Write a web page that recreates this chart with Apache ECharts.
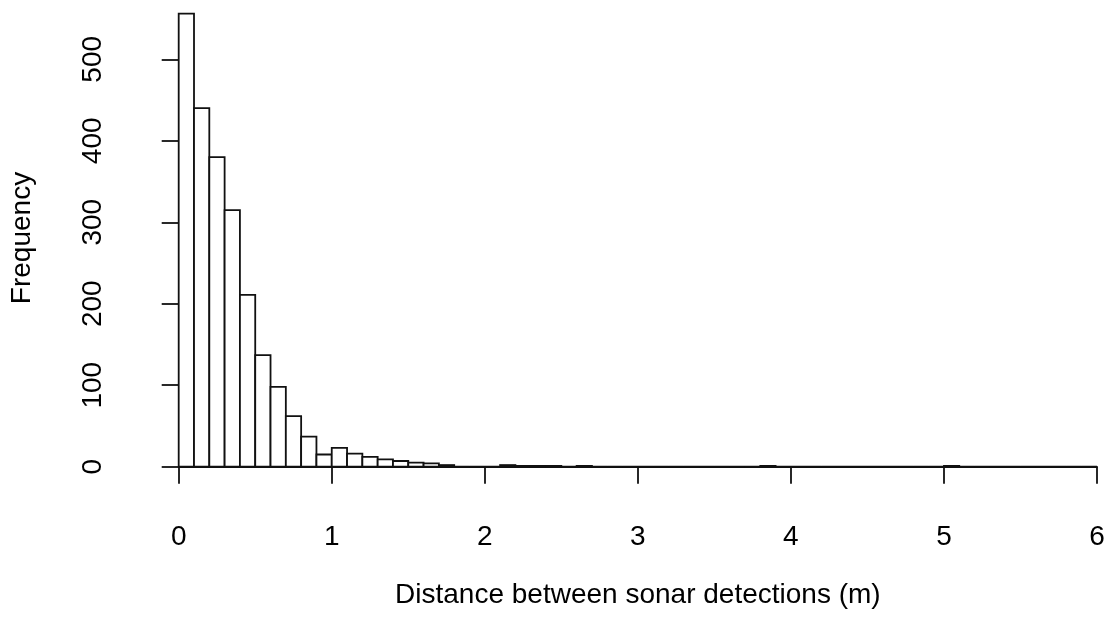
<!DOCTYPE html>
<html>
<head>
<meta charset="utf-8">
<title>Distance between sonar detections</title>
<script src="https://cdn.jsdelivr.net/npm/echarts@6/dist/echarts.min.js"></script>
<style>
  html, body { margin: 0; padding: 0; background: #ffffff; }
  #chart { width: 1112px; height: 630px; }
</style>
</head>
<body>
<div id="chart"></div>
<script>
// Histogram bins: left edge of each 0.1 m bin, and its count
const binWidth = 0.1;
const binStarts = [
  0.0, 0.1, 0.2, 0.3, 0.4, 0.5, 0.6, 0.7, 0.8, 0.9,
  1.0, 1.1, 1.2, 1.3, 1.4, 1.5, 1.6, 1.7, 1.8, 1.9,
  2.0, 2.1, 2.2, 2.3, 2.4, 2.5, 2.6, 2.7, 2.8, 2.9,
  3.0, 3.1, 3.2, 3.3, 3.4, 3.5, 3.6, 3.7, 3.8, 3.9,
  4.0, 4.1, 4.2, 4.3, 4.4, 4.5, 4.6, 4.7, 4.8, 4.9,
  5.0, 5.1, 5.2, 5.3, 5.4, 5.5, 5.6, 5.7, 5.8, 5.9
];
const counts = [
  556, 440, 380, 315, 211, 137, 98, 62, 37, 15,
  23, 16, 12, 9, 7, 5, 4, 2, 0, 0,
  0, 2, 1, 1, 1, 0, 1, 0, 0, 0,
  0, 0, 0, 0, 0, 0, 0, 0, 1, 0,
  0, 0, 0, 0, 0, 0, 0, 0, 0, 0,
  1, 0, 0, 0, 0, 0, 0, 0, 0, 0
];
const xTicks = [0, 1, 2, 3, 4, 5, 6];
const yTicks = [0, 100, 200, 300, 400, 500];

const xTitle = 'Distance between sonar detections (m)';
const yTitle = 'Frequency';

const ink = '#111111';
const font = '"Liberation Sans", Arial, sans-serif';

const binData = binStarts.map((x0, i) => [x0, x0 + binWidth, counts[i]]);

const chart = echarts.init(document.getElementById('chart'), null, { renderer: 'canvas' });

const axisCommon = {
  type: 'value',
  axisLine: { show: true, lineStyle: { color: ink, width: 1.8 } },
  axisTick: { show: true, length: 17, inside: false, lineStyle: { color: ink, width: 1.8 } },
  splitLine: { show: false },
  nameLocation: 'middle',
  nameTextStyle: { color: '#000', fontFamily: font, fontSize: 28 }
};

chart.setOption({
  animation: false,
  backgroundColor: '#ffffff',
  grid: { left: 178, right: 15, top: 59.3, bottom: 163.3, containLabel: false },
  xAxis: Object.assign({}, axisCommon, {
    min: xTicks[0],
    max: xTicks[xTicks.length - 1],
    interval: 1,
    offset: 18.3,
    name: xTitle,
    nameGap: 96,
    axisLabel: {
      color: '#000', fontFamily: font, fontSize: 28, lineHeight: 28, margin: 38,
      formatter: v => String(v)
    }
  }),
  yAxis: Object.assign({}, axisCommon, {
    min: yTicks[0],
    max: yTicks[yTicks.length - 1],
    interval: 100,
    offset: 36.7,
    name: yTitle,
    nameGap: 106,
    nameRotate: 90,
    nameTextStyle: Object.assign({}, axisCommon.nameTextStyle, { padding: [0, 0, 0, 50] }),
    axisLabel: {
      color: '#000', fontFamily: font, fontSize: 28, lineHeight: 28, margin: 35,
      rotate: 90,
      formatter: v => String(v)
    }
  }),
  series: [{
    type: 'custom',
    clip: false,
    data: binData,
    encode: { x: [0, 1], y: 2 },
    renderItem: function (params, api) {
      const bottomLeft = api.coord([api.value(0), 0]);
      const topRight = api.coord([api.value(1), api.value(2)]);
      return {
        type: 'rect',
        shape: {
          x: bottomLeft[0],
          y: topRight[1],
          width: topRight[0] - bottomLeft[0],
          height: bottomLeft[1] - topRight[1]
        },
        style: { fill: '#ffffff', stroke: ink, lineWidth: 1.8 }
      };
    }
  }]
});
</script>
</body>
</html>
